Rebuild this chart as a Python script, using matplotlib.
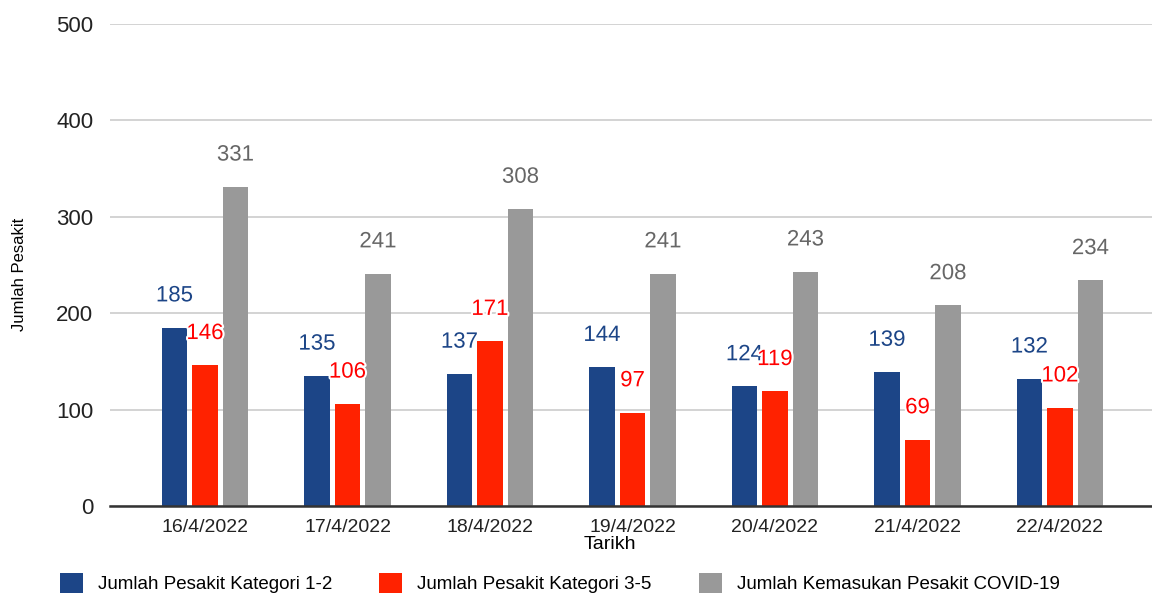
import numpy as np
import matplotlib.pyplot as plt
import matplotlib.patheffects as pe

plt.rcParams['font.family'] = ['Liberation Sans', 'DejaVu Sans']

tarikh = ['16/4/2022', '17/4/2022', '18/4/2022', '19/4/2022', '20/4/2022', '21/4/2022', '22/4/2022']
kategori_1_2 = [185, 135, 137, 144, 124, 139, 132]
kategori_3_5 = [146, 106, 171, 97, 119, 69, 102]
kemasukan = [331, 241, 308, 241, 243, 208, 234]

series = [
    ('Jumlah Pesakit Kategori 1-2', kategori_1_2, '#1c4587', '#1c4587'),
    ('Jumlah Pesakit Kategori 3-5', kategori_3_5, '#ff2200', '#ff0000'),
    ('Jumlah Kemasukan Pesakit COVID-19', kemasukan, '#999999', '#666666'),
]

fig = plt.figure(figsize=(11.52, 5.94), dpi=100)
ax = fig.add_axes([0.0955, 0.148, 0.9045, 0.812])

x = np.arange(len(tarikh))
w = 0.18
step = 0.214
for i, (name, vals, col, lcol) in enumerate(series):
    xs = x + (i - 1) * step
    ax.bar(xs, vals, width=w, color=col, label=name, zorder=3)
    for xi, v in zip(xs, vals):
        t = ax.text(xi, v + 22, str(v), ha='center', va='bottom', color=lcol,
                    fontsize=16, zorder=5)
        t.set_path_effects([pe.withStroke(linewidth=3, foreground='white')])

ax.set_ylim(0, 500)
ax.set_xlim(-0.667, 6.646)
ax.set_yticks([0, 100, 200, 300, 400, 500])
ax.yaxis.grid(True, color='#cccccc', linewidth=1.2, zorder=0)
ax.set_axisbelow(True)
for s in ['left', 'right', 'top']:
    ax.spines[s].set_visible(False)
ax.spines['bottom'].set_color('#333333')
ax.spines['bottom'].set_linewidth(1.8)
ax.spines['bottom'].set_zorder(4)
ax.tick_params(axis='both', length=0)
ax.tick_params(axis='y', labelsize=16, pad=12, labelcolor='#222222')
ax.tick_params(axis='x', labelsize=14, pad=9, labelcolor='#222222')
ax.set_xticks(x)
ax.set_xticklabels(tarikh)
ax.set_xlabel('Tarikh', fontsize=14, labelpad=0)
ax.xaxis.set_label_coords((610 - 110) / 1042, -0.062)
ax.set_ylabel('Jumlah Pesakit', fontsize=12)
ax.yaxis.set_label_coords(-0.08, 0.48)

fig.legend(loc='center left', bbox_to_anchor=(60 / 1152, 1 - 583 / 594), ncol=3,
           frameon=False, fontsize=13.5, handlelength=1.23, handleheight=1.23,
           columnspacing=2.5, handletextpad=0.8, borderpad=0, borderaxespad=0)

fig.savefig('out.png', dpi=100)
